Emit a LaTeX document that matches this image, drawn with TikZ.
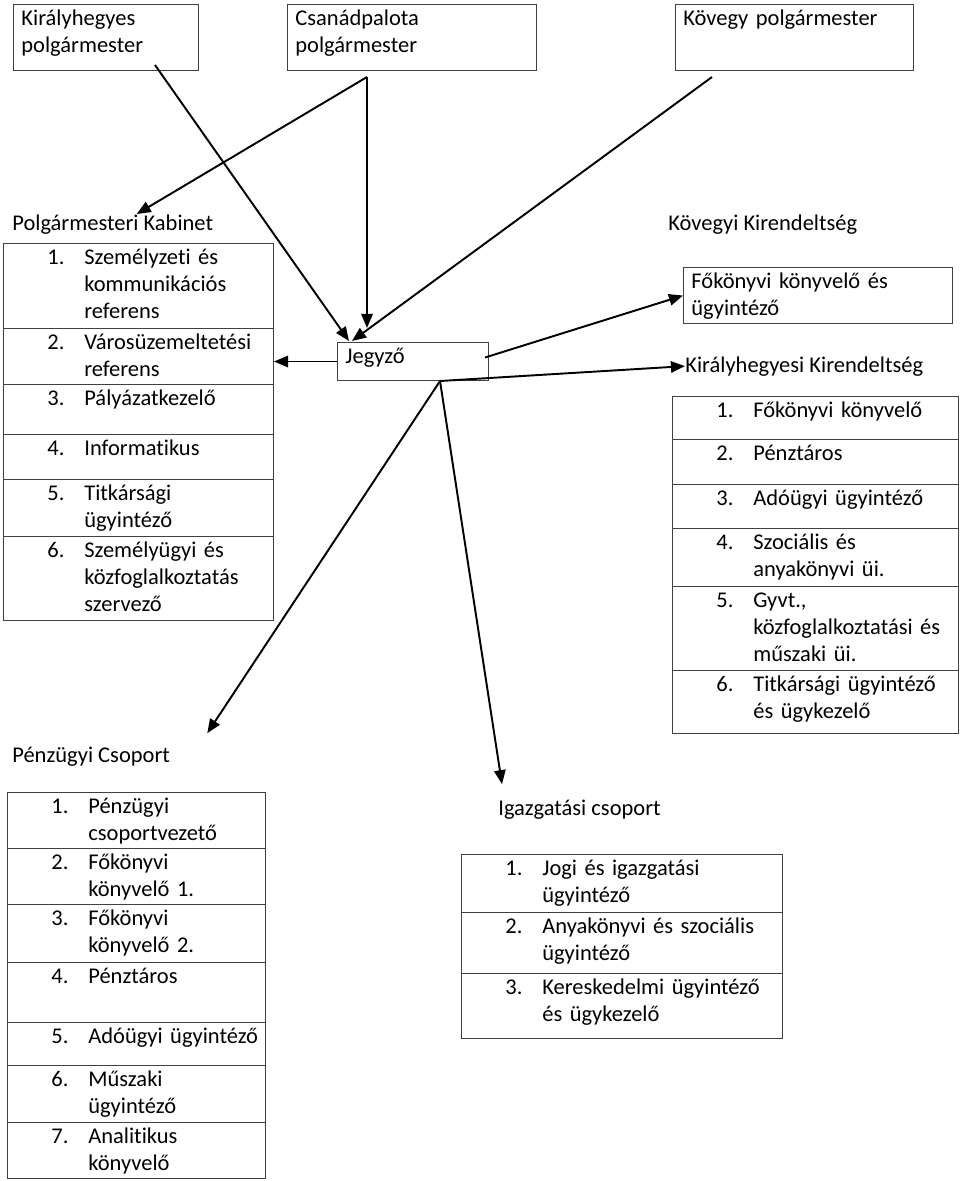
\documentclass[tikz,border=0pt]{standalone}
\usepackage{fontspec}
\setmainfont{Carlito}[Ligatures=NoCommon]
\usetikzlibrary{arrows.meta}
\usetikzlibrary{calc}
\definecolor{boxgray}{gray}{0.25}
\newcommand{\numitem}[2]{\hspace*{25pt}\makebox[21pt][l]{#1}\begin{tabular}[t]{@{}l@{}}#2\end{tabular}}
\newcommand{\boxtext}[1]{\hspace*{4.5pt}\begin{tabular}[t]{@{}l@{}}#1\end{tabular}}
\begin{document}
\begin{tikzpicture}[x=0.02cm,y=-0.02cm,
  every node/.style={font=\fontsize{12.8}{15.2}\selectfont},
  cell/.style 2 args={draw=boxgray,line width=0.6pt,anchor=north west,inner sep=0pt,align=left,text width=#1,text height=12pt,text depth=#2},
  title/.style={anchor=base west,inner sep=0pt},
  arr/.style={line width=1.1pt,-{Triangle[length=8pt,width=6.5pt]}}]
\useasboundingbox (0,0) rectangle (960,1181);

% polgarmesterek
\node[cell={3.7cm}{25.6pt}] (kirpm) at (13,4) {\boxtext{Királyhegyes\\polgármester}};
\node[cell={4.98cm}{25.6pt}] (csanpm) at (287,4) {\boxtext{Csanádpalota\\polgármester}};
\node[cell={4.76cm}{25.6pt}] (kovpm) at (675,4) {\boxtext{Kövegy polgármester}};

\node[cell={3.02cm}{9.6pt}] (jegyzo) at (337,342) {\boxtext{Jegyző}};

% kabinet
\node[title] (kabtitle) at (12,230) {Polgármesteri Kabinet};
\node[cell={5.4cm}{36.4pt}] (kab1) at (3,243) {\numitem{1.}{Személyzeti és\\kommunikációs\\referens}};
\node[cell={5.4cm}{19.9pt}] (kab2) at (3,328) {\numitem{2.}{Városüzemeltetési\\referens}};
\node[cell={5.4cm}{16.5pt}] (kab3) at (3,384) {\numitem{3.}{Pályázatkezelő}};
\node[cell={5.4cm}{13.6pt}] (kab4) at (3,434) {\numitem{4.}{Informatikus}};
\node[cell={5.4cm}{20.4pt}] (kab5) at (3,479) {\numitem{5.}{Titkársági\\ügyintéző}};
\node[cell={5.4cm}{35.8pt}] (kab6) at (3,536) {\numitem{6.}{Személyügyi és\\közfoglalkoztatás\\szervező}};

% penzugy
\node[title] (penztitle) at (12,762) {Pénzügyi Csoport};
\node[cell={5.16cm}{19.9pt}] (penz1) at (7,792) {\numitem{1.}{Pénzügyi\\csoportvezető}};
\node[cell={5.16cm}{19.9pt}] (penz2) at (7,848) {\numitem{2.}{Főkönyvi\\könyvelő 1.}};
\node[cell={5.16cm}{21.0pt}] (penz3) at (7,904) {\numitem{3.}{Főkönyvi\\könyvelő 2.}};
\node[cell={5.16cm}{22.1pt}] (penz4) at (7,962) {\numitem{4.}{Pénztáros}};
\node[cell={5.16cm}{12.5pt}] (penz5) at (7,1022) {\numitem{5.}{Adóügyi ügyintéző}};
\node[cell={5.16cm}{20.4pt}] (penz6) at (7,1065) {\numitem{6.}{Műszaki\\ügyintéző}};
\node[cell={5.16cm}{19.9pt}] (penz7) at (7,1122) {\numitem{7.}{Analitikus\\könyvelő}};

% igazgatas
\node[title] (igtitle) at (498,815) {Igazgatási csoport};
\node[cell={6.42cm}{21.0pt}] (ig1) at (461,854) {\numitem{1.}{Jogi és igazgatási\\ügyintéző}};
\node[cell={6.42cm}{22.7pt}] (ig2) at (461,912) {\numitem{2.}{Anyakönyvi és szociális\\ügyintéző}};
\node[cell={6.42cm}{25.0pt}] (ig3) at (461,973) {\numitem{3.}{Kereskedelmi ügyintéző\\és ügykezelő}};

% kirendeltsegek
\node[title] (kovtitle) at (668,230) {Kövegyi Kirendeltség};
\node[cell={5.38cm}{19.9pt}] (kovfok) at (683,267) {\boxtext{Főkönyvi könyvelő és\\ügyintéző}};
\node[title] (kirtitle) at (685,372) {Királyhegyesi Kirendeltség};
\node[cell={5.72cm}{12.5pt}] (kirk1) at (672,396) {\numitem{1.}{Főkönyvi könyvelő}};
\node[cell={5.72cm}{13.6pt}] (kirk2) at (672,439) {\numitem{2.}{Pénztáros}};
\node[cell={5.72cm}{13.0pt}] (kirk3) at (672,484) {\numitem{3.}{Adóügyi ügyintéző}};
\node[cell={5.72cm}{21.0pt}] (kirk4) at (672,528) {\numitem{4.}{Szociális és\\anyakönyvi üi.}};
\node[cell={5.72cm}{35.8pt}] (kirk5) at (672,586) {\numitem{5.}{Gyvt.,\\közfoglalkoztatási és\\műszaki üi.}};
\node[cell={5.72cm}{23.9pt}] (kirk6) at (672,670) {\numitem{6.}{Titkársági ügyintéző\\és ügykezelő}};

% nyilak
\coordinate (kirfoot) at (155,65);
\coordinate (csanfoot) at (367,77);
\coordinate (kovfoot) at (712,77);
\coordinate (jegfoot) at ($(jegyzo.south)+(27,0)$);
\draw[arr] (kirfoot) -- ($(jegyzo.north west)+(12,-1)$);
\draw[arr] (csanfoot) -- ($(jegyzo.north west)+(30,-14)$);
\draw[arr] (csanfoot) -- ($(kabtitle.north)+(24,0)$);
\draw[arr] (kovfoot) -- ($(jegyzo.north west)+(15,-1)$);
\draw[arr] (jegyzo.west) -- (jegyzo.west -| kab2.east);
\draw[arr] ($(jegyzo.east)+(-4,-4)$) -- (kovfok.west);
\draw[arr] (jegfoot) -- (kirtitle.west);
\draw[arr] (jegfoot) -- ($(penztitle.north east)+(37,-13)$);
\draw[arr] (jegfoot) -- ($(igtitle.north west)+(4,-15)$);
\end{tikzpicture}
\end{document}
